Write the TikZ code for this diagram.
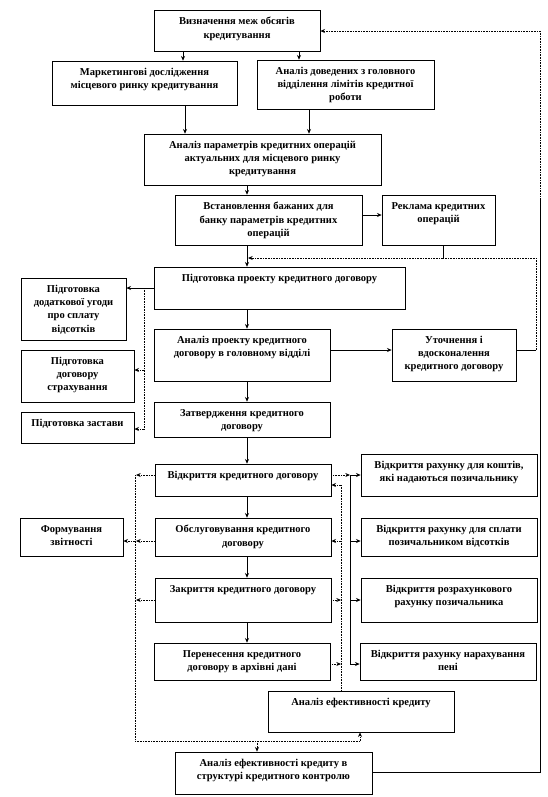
\documentclass[tikz,border=0pt]{standalone}
\usepackage{fontspec}
\setmainfont{Liberation Serif}
\usetikzlibrary{arrows.meta,fit}
\begin{document}
\begin{tikzpicture}[x=0.75pt,y=-0.75pt,
  box/.style={draw, line width=0.5pt, inner sep=0pt},
  txt/.style={align=center, font=\bfseries\fontsize{7.9}{9.9}\selectfont, inner sep=0pt, anchor=north},
  ln/.style={line width=0.5pt},
  dl/.style={line width=0.6pt, dash pattern=on 0.6pt off 0.6pt},
  ar/.style={-{Stealth[length=3.5pt,width=3pt]}}]
\useasboundingbox (0,0) rectangle (548,797);
\newcommand\bx[6]{\node[box, fit={(#2,#3) (#4,#5)}] (#1) {};
  \node[txt] (#1t) at ([yshift=-5.5pt]#1.north) {#6};}
\bx{b1}{154}{10}{320}{51}{Визначення меж обсягів\\кредитування}
\bx{b2}{52}{61}{237}{105}{Маркетингові дослідження\\місцевого ринку кредитування}
\bx{b3}{257}{60}{434}{109}{Аналіз доведених з головного\\відділення лімітів кредитної\\роботи}
\bx{b4}{144}{134}{381}{185}{Аналіз параметрів кредитних операцій\\актуальних для місцевого ринку\\кредитування}
\bx{b5}{175}{195}{362}{245}{Встановлення бажаних для\\банку параметрів кредитних\\операцій}
\bx{b6}{382}{195}{495}{245}{Реклама кредитних\\операцій}
\bx{b7}{154}{267}{405}{309}{Підготовка проекту кредитного договору}
\bx{b8}{21}{278}{126}{340}{Підготовка\\додаткової угоди\\про сплату\\відсотків}
\bx{b9}{154}{329}{330}{381}{Аналіз проекту кредитного\\договору в головному відділі}
\bx{b10}{392}{329}{516}{381}{Уточнення і\\вдосконалення\\кредитного договору}
\bx{b11}{21}{350}{134}{402}{Підготовка\\договору\\страхування}
\bx{b12}{21}{412}{134}{443}{Підготовка застави}
\bx{b13}{154}{402}{330}{437}{Затвердження кредитного\\договору}
\bx{b14}{155}{464}{331}{496}{Відкриття кредитного договору}
\bx{b15}{361}{454}{537}{496}{Відкриття рахунку для коштів,\\які надаються позичальнику}
\bx{b16}{20}{518}{123}{556}{Формування\\звітності}
\bx{b17}{155}{518}{331}{556}{Обслуговування кредитного\\договору}
\bx{b18}{361}{518}{537}{556}{Відкриття рахунку для сплати\\позичальником відсотків}
\bx{b19}{155}{578}{331}{622}{Закриття кредитного договору}
\bx{b20}{361}{578}{537}{622}{Відкриття розрахункового\\рахунку позичальника}
\bx{b21}{154}{643}{330}{680}{Перенесення кредитного\\договору в архівні дані}
\bx{b22}{360}{643}{536}{680}{Відкриття рахунку нарахування\\пені}
\bx{b23}{268}{691}{454}{732}{Аналіз ефективності кредиту}
\bx{b24}{175}{752}{372}{794}{Аналіз ефективності кредиту в\\структурі кредитного контролю}
% top part
\draw[ln,ar] (183,0 |- b1.south) -- (183,0 |- b2.north);
\draw[ln,ar] (299,0 |- b1.south) -- (299,0 |- b3.north);
\draw[ln,ar] (185,0 |- b2.south) -- (185,0 |- b4.north);
\draw[ln,ar] (309,0 |- b3.south) -- (309,0 |- b4.north);
\draw[ln,ar] (247,0 |- b4.south) -- (247,0 |- b5.north);
\draw[ln,ar] (b5.east |- 0,215) -- (b6.west |- 0,215);
\draw[ln,ar] (247,0 |- b5.south) -- (247,0 |- b7.north);
\coordinate (j1) at (443,258);
\coordinate (r1) at (536,258);
\draw[ln] (443,0 |- b6.south) -- (j1);
\draw[ln] (b10.east |- 0,350) -- (536,350);
\draw[dl] (536,350) -- (r1) -- (j1);
\draw[dl,ar] (j1) -- (248,258);
\draw[ln,ar] (b7.west |- 0,288) -- (b8.east |- 0,288);
\draw[dl] (144,288) -- (144,429);
\draw[dl,ar] (144,370) -- (b11.east |- 0,370);
\draw[dl,ar] (144,429) -- (b12.east |- 0,429);
\draw[ln,ar] (247,0 |- b7.south) -- (247,0 |- b9.north);
\draw[ln,ar] (b9.east |- 0,350) -- (b10.west |- 0,350);
\draw[ln,ar] (247,0 |- b9.south) -- (247,0 |- b13.north);
\draw[ln,ar] (247,0 |- b13.south) -- (247,0 |- b14.north);
\draw[ln,ar] (247,0 |- b14.south) -- (247,0 |- b17.north);
\draw[ln,ar] (247,0 |- b17.south) -- (247,0 |- b19.north);
\draw[ln,ar] (247,0 |- b19.south) -- (247,0 |- b21.north);
% left collector
\draw[dl] (135,475) -- (135,741);
\draw[dl,ar] (b14.west |- 0,475) -- (136,475);
\draw[dl,ar] (b17.west |- 0,541) -- (136,541);
\draw[dl,ar] (135,541) -- (b16.east |- 0,541);
\draw[dl,ar] (b19.west |- 0,600) -- (136,600);
% right collector (dotted)
\draw[dl] (341,485) -- (341,0 |- b23.north);
\draw[dl,ar] (341,485) -- (b14.east |- 0,485);
\draw[dl,ar] (341,541) -- (b17.east |- 0,541);
\draw[dl,ar] (b19.east |- 0,600) -- (341,600);
\draw[dl,ar] (b21.east |- 0,664) -- (341,664);
% right distributor (solid)
\draw[dl,ar] (b14.east |- 0,475) -- (350,475);
\draw[ln] (350,475) -- (350,664);
\draw[ln,ar] (350,475) -- (b15.west |- 0,475);
\draw[ln,ar] (350,541) -- (b18.west |- 0,541);
\draw[ln,ar] (350,600) -- (b20.west |- 0,600);
\draw[ln,ar] (350,664) -- (b22.west |- 0,664);
% bottom
\coordinate (bl) at (135,741);
\coordinate (br) at (360,741);
\draw[dl] (bl) -- (br);
\draw[dl,ar] (257,741) -- (257,0 |- b24.north);
\draw[dl,ar] (br) -- (360,0 |- b23.south);
% return to top
\draw[ln] (b24.east |- 0,772) -- (540,772) -- (540,200);
\draw[dl,ar] (540,200) -- (540,31) -- (b1.east |- 0,31);
\end{tikzpicture}
\end{document}
